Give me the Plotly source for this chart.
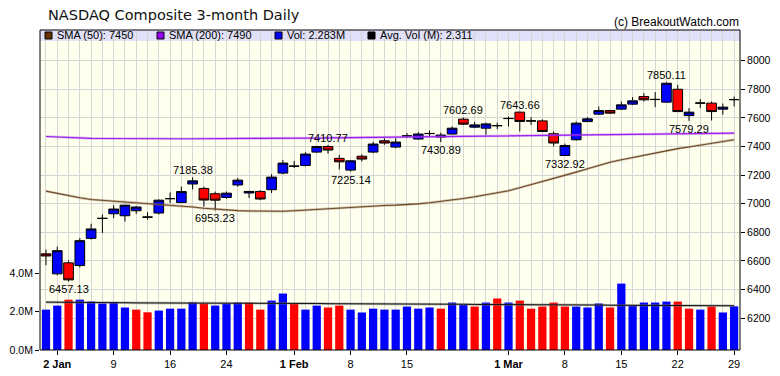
import plotly.graph_objects as go

# ---------------- data ----------------
x_idx = list(range(62))  # trading days 31 Dec 2018 .. 29 Mar 2019

tick_positions = [1, 6, 11, 16, 22, 27, 32, 41, 46, 51, 56, 61]
tick_labels = ["<b>2 Jan</b>", "9", "16", "24", "<b>1 Feb</b>", "8", "15",
               "<b>1 Mar</b>", "8", "15", "22", "29"]

opens = [6650, 6510, 6587, 6568, 6758, 6897, 6930, 6916, 6951, 6906,
         6935, 7035, 7009, 7138, 7107, 7070, 7044, 7131, 7075, 7086,
         7098, 7214, 7262, 7267, 7361, 7400, 7317, 7235, 7332, 7361,
         7440, 7396, 7474, 7452, 7490, 7466, 7487, 7591, 7535, 7528,
         7545, 7595, 7640, 7578, 7579, 7489, 7337, 7447, 7574, 7626,
         7651, 7661, 7696, 7749, 7728, 7710, 7800, 7616, 7703, 7703,
         7661, 7727]
highs = [6680, 6700, 6603, 6760, 6860, 6925, 6990, 6992, 6985, 6940,
         7030, 7079, 7120, 7185.38, 7120, 7085, 7085, 7180, 7090, 7095,
         7207, 7305, 7300, 7360, 7405, 7410.77, 7340, 7305, 7345, 7433,
         7458, 7458, 7494, 7500, 7512, 7497, 7540, 7602.69, 7572, 7567,
         7567, 7609, 7643.66, 7605, 7590, 7505, 7420, 7575, 7605, 7679,
         7656, 7714, 7745, 7772, 7780, 7850.11, 7830, 7668, 7731, 7714,
         7700, 7749]
lows = [6570, 6500, 6457.13, 6555, 6750, 6795, 6900, 6875, 6930, 6889,
        6925, 7005, 7005, 7100, 6980, 6953.23, 7035, 7120, 7040, 7025,
        7075, 7205, 7250, 7262, 7355, 7350, 7240, 7225.14, 7295, 7353,
        7412, 7388, 7459, 7447, 7470, 7430.89, 7485, 7550, 7528, 7482,
        7521, 7540, 7505, 7551, 7500, 7400, 7332.92, 7442, 7572, 7620,
        7630, 7656, 7691, 7714, 7675, 7705, 7640, 7579.29, 7668, 7582,
        7622, 7679]
closes = [6635, 6672, 6468, 6742, 6824, 6898, 6963, 6990, 6977, 6907,
          7025, 7036, 7085, 7160, 7026, 7025, 7074, 7165, 7086, 7033,
          7186, 7284, 7263, 7347, 7400, 7375, 7293, 7300, 7312, 7417,
          7424, 7431, 7475, 7487, 7491, 7480, 7528, 7556, 7551, 7558,
          7546, 7596, 7575, 7579, 7505, 7424, 7407, 7563, 7593, 7651,
          7633, 7691, 7719, 7726, 7729, 7842, 7644, 7640, 7704, 7644,
          7675, 7728]

sma50 = [7088, 7072, 7058, 7042, 7030, 7024, 7018, 7012, 7007, 7002,
         6998, 6993, 6985, 6977, 6968, 6961, 6956, 6952, 6949, 6947,
         6947, 6948, 6951, 6956, 6962, 6968, 6973, 6978, 6982, 6985,
         6988, 6990, 6993, 6999, 7007, 7016, 7026, 7037, 7049, 7062,
         7076, 7091, 7112, 7133, 7154, 7175, 7198, 7221, 7244, 7267,
         7290, 7307, 7323, 7340, 7357, 7372, 7385, 7397, 7410, 7422,
         7435, 7447]
sma200 = [7470, 7466, 7462, 7459, 7457, 7456, 7455, 7455, 7454, 7454,
          7454, 7454, 7454, 7454, 7454, 7454, 7454, 7455, 7455, 7456,
          7456, 7457, 7457, 7458, 7459, 7460, 7461, 7462, 7463, 7464,
          7465, 7466, 7467, 7468, 7469, 7470, 7471, 7472, 7474, 7475,
          7476, 7477, 7478, 7479, 7480, 7481, 7482, 7483, 7484, 7485,
          7485, 7486, 7487, 7488, 7488, 7489, 7490, 7491, 7491, 7492,
          7492, 7493]

volume_m = [2.11, 2.32, 2.63, 2.63, 2.53, 2.43, 2.49, 2.22, 2.11, 1.97,
            2.06, 2.16, 2.16, 2.48, 2.43, 2.32, 2.43, 2.48, 2.48, 2.11,
            2.58, 2.95, 2.43, 2.11, 2.32, 2.22, 2.32, 2.11, 1.96, 2.16,
            2.11, 2.11, 2.27, 2.16, 2.22, 2.16, 2.48, 2.37, 2.27, 2.48,
            2.69, 2.48, 2.58, 2.16, 2.27, 2.48, 2.27, 2.27, 2.22, 2.43,
            2.22, 3.47, 2.32, 2.48, 2.48, 2.53, 2.53, 2.16, 2.11, 2.27,
            1.96, 2.283]
volume_up = [1, 1, 0, 1, 1, 1, 1, 1, 0, 0,
             1, 1, 1, 1, 0, 1, 1, 1, 0, 0,
             1, 1, 0, 1, 1, 0, 0, 1, 1, 1,
             1, 1, 1, 1, 1, 0, 1, 1, 0, 1,
             0, 1, 0, 0, 0, 0, 0, 1, 1, 1,
             0, 1, 1, 1, 1, 1, 0, 0, 1, 0,
             1, 1]
avg_vol_m = [2.50, 2.50, 2.49, 2.49, 2.48, 2.48, 2.47, 2.47, 2.46, 2.46,
             2.46, 2.45, 2.45, 2.45, 2.44, 2.44, 2.44, 2.44, 2.43, 2.43,
             2.43, 2.43, 2.43, 2.43, 2.43, 2.42, 2.42, 2.42, 2.42, 2.41,
             2.41, 2.41, 2.40, 2.40, 2.40, 2.39, 2.39, 2.39, 2.38, 2.38,
             2.38, 2.37, 2.37, 2.37, 2.36, 2.36, 2.36, 2.35, 2.35, 2.35,
             2.34, 2.34, 2.34, 2.33, 2.33, 2.33, 2.32, 2.32, 2.32, 2.32,
             2.31, 2.311]

high_label_idx = [13, 25, 37, 42, 55]
low_label_idx = [2, 15, 27, 35, 46, 57]

price_ticks = [6200, 6400, 6600, 6800, 7000, 7200, 7400, 7600, 7800, 8000]
vol_ticks_m = [0, 2, 4]

legend_items = [("SMA (50): 7450", "#663300"),
                ("SMA (200): 7490", "#9900ff"),
                ("Vol: 2.283M", "#0000ff"),
                ("Avg. Vol (M): 2.311", "#000000")]

# ---------------- layout geometry ----------------
# The page body has an 8px default margin, so the figure is shrunk by 8px
# and its margins reduced so that the plot area lands at window px 40..740 x 30..350.5
BODY = 8
W, H = 780 - BODY, 376 - BODY
PLOT_L, PLOT_T, PLOT_R, PLOT_B = 40, 30, 740, 350.5  # window pixel coordinates
PW, PH = PLOT_R - PLOT_L, PLOT_B - PLOT_T
ML, MT = PLOT_L - BODY, PLOT_T - BODY
MR = W - ML - PW
MB = H - MT - PH


def px_x(px):
    return (px - PLOT_L) / PW


def px_y(py):
    return 1 - (py - PLOT_T) / PH


BLUE = "#0000ff"
RED = "#ff0000"
GRID = "#d6d6d6"
TXT = dict(family="Liberation Sans, Arial, sans-serif", size=11, color="black")

fig = go.Figure()

# volume bars (left axis)
fig.add_trace(go.Bar(
    x=x_idx, y=[v * 1e6 for v in volume_m],
    marker=dict(color=[BLUE if u else RED for u in volume_up], line=dict(width=0)),
    yaxis="y", showlegend=False, hoverinfo="skip"))
fig.add_trace(go.Scatter(
    x=x_idx, y=[v * 1e6 for v in avg_vol_m], mode="lines",
    line=dict(color="rgba(120,120,120,0.5)", width=2.6), yaxis="y",
    showlegend=False, hoverinfo="skip"))
fig.add_trace(go.Scatter(
    x=x_idx, y=[v * 1e6 for v in avg_vol_m], mode="lines",
    line=dict(color="#111111", width=1), yaxis="y",
    showlegend=False, hoverinfo="skip"))

# moving averages (right axis)
fig.add_trace(go.Scatter(
    x=x_idx, y=sma50, mode="lines",
    line=dict(color="rgba(140,105,70,0.4)", width=2.4), yaxis="y2",
    showlegend=False, hoverinfo="skip"))
fig.add_trace(go.Scatter(
    x=x_idx, y=sma50, mode="lines",
    line=dict(color="#6e4a2a", width=1.1), yaxis="y2",
    showlegend=False, hoverinfo="skip"))
fig.add_trace(go.Scatter(
    x=x_idx, y=sma200, mode="lines",
    line=dict(color="rgba(170,80,240,0.4)", width=2.6), yaxis="y2",
    showlegend=False, hoverinfo="skip"))
fig.add_trace(go.Scatter(
    x=x_idx, y=sma200, mode="lines",
    line=dict(color="#9a1ff0", width=1.2), yaxis="y2",
    showlegend=False, hoverinfo="skip"))

# candles
fig.add_trace(go.Candlestick(
    x=x_idx, open=opens, high=highs, low=lows, close=closes,
    increasing=dict(line=dict(color="black", width=1), fillcolor=BLUE),
    decreasing=dict(line=dict(color="black", width=1), fillcolor=RED),
    whiskerwidth=0, yaxis="y2", showlegend=False, hoverinfo="skip"))

annotations = []
for i in high_label_idx:
    annotations.append(dict(x=i, y=highs[i], xref="x", yref="y2",
                            text=f"{highs[i]:.2f}", showarrow=False,
                            yanchor="bottom", xanchor="center", yshift=-1,
                            font=TXT))
for i in low_label_idx:
    annotations.append(dict(x=i, y=lows[i], xref="x", yref="y2",
                            text=f"{lows[i]:.2f}", showarrow=False,
                            yanchor="top", xanchor="center", yshift=0,
                            font=TXT))

# title & copyright
annotations.append(dict(x=px_x(46), y=px_y(15), xref="paper", yref="paper",
                        text="NASDAQ Composite 3-month Daily", showarrow=False,
                        xanchor="left", yanchor="middle",
                        font=dict(family="DejaVu Sans, sans-serif", size=14.5,
                                  color="#111111")))
annotations.append(dict(x=px_x(741), y=px_y(21.5), xref="paper", yref="paper",
                        text="(c) BreakoutWatch.com", showarrow=False,
                        xanchor="right", yanchor="middle",
                        font=dict(family="Liberation Sans, Arial, sans-serif",
                                  size=12, color="black")))

shapes = [
    # legend band
    dict(type="rect", xref="paper", yref="paper", x0=0, x1=1,
         y0=px_y(41), y1=1, fillcolor="#e0e0f8", line=dict(width=0),
         layer="below"),
    # frame
    dict(type="rect", xref="paper", yref="paper", x0=0, x1=1, y0=0, y1=1,
         line=dict(color="black", width=1), fillcolor="rgba(0,0,0,0)",
         layer="above"),
]

legend_sq_x = [45, 157, 275, 368]
for (label, col), sx in zip(legend_items, legend_sq_x):
    shapes.append(dict(type="rect", xref="paper", yref="paper",
                       x0=px_x(sx), x1=px_x(sx + 7), y0=px_y(39), y1=px_y(32),
                       fillcolor=col, line=dict(color="black", width=1),
                       layer="above"))
    annotations.append(dict(x=px_x(sx + 10), y=px_y(35.5), xref="paper",
                            yref="paper", text=label, showarrow=False,
                            xanchor="left", yanchor="middle", font=TXT))

fig.update_layout(
    width=W, height=H,
    margin=dict(l=ML, r=MR, t=MT, b=MB, pad=0, autoexpand=False),
    paper_bgcolor="white", plot_bgcolor="#ffffee",
    bargap=0.27, boxgap=0.14, boxgroupgap=0,
    showlegend=False,
    xaxis=dict(range=[-0.53, 61.52], tickmode="array",
               tickvals=tick_positions, ticktext=tick_labels,
               ticks="outside", ticklen=4, tickcolor="black",
               showgrid=True, gridcolor=GRID, gridwidth=1,
               minor=dict(tick0=0, dtick=1, showgrid=True, gridcolor=GRID,
                          gridwidth=1, ticks=""),
               zeroline=False, showline=False,
               rangeslider=dict(visible=False),
               tickfont=dict(family="Liberation Sans, Arial, sans-serif",
                             size=11, color="black")),
    yaxis=dict(range=[0, 16.72e6], side="left", tickmode="array",
               tickvals=[v * 1e6 for v in vol_ticks_m],
               ticktext=[f"{v:.1f}M" for v in vol_ticks_m],
               ticks="outside", ticklen=4, tickcolor="black",
               showgrid=False, zeroline=False, showline=False,
               tickfont=dict(family="Liberation Sans, Arial, sans-serif",
                             size=10.5, color="black")),
    yaxis2=dict(range=[5978, 8214], side="right", overlaying="y",
                tickmode="array", tickvals=price_ticks,
                ticktext=[str(v) for v in price_ticks],
                ticks="outside", ticklen=4, tickcolor="black",
                showgrid=True, gridcolor=GRID, gridwidth=1,
                zeroline=False, showline=False,
                tickfont=dict(family="Liberation Sans, Arial, sans-serif",
                              size=10.5, color="black")),
    annotations=annotations,
    shapes=shapes,
)

fig.write_html("out.html")
